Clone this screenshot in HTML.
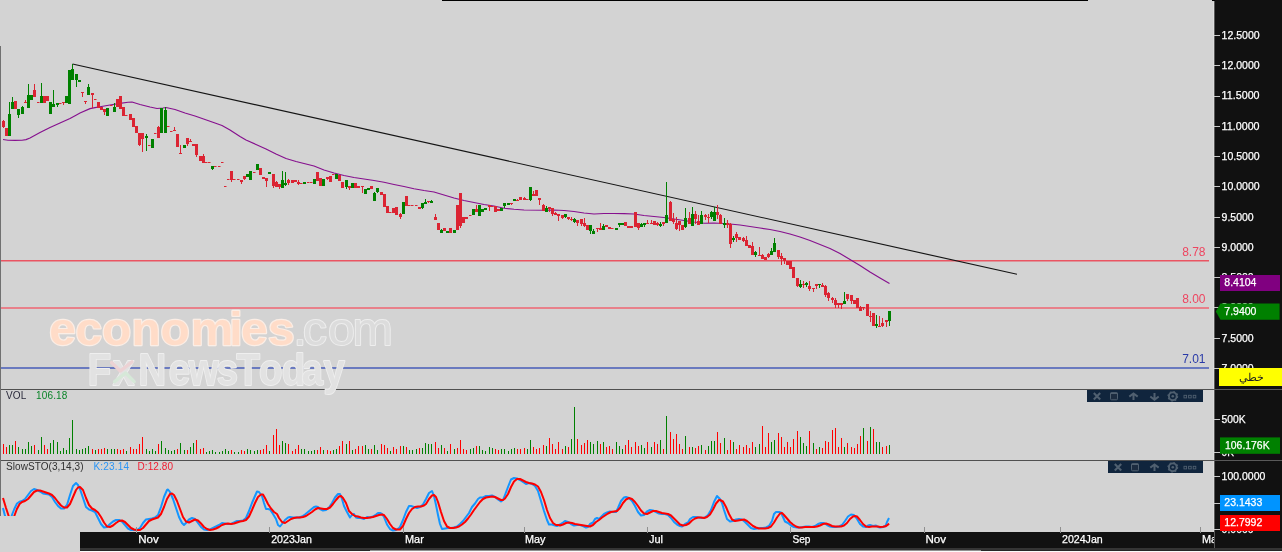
<!DOCTYPE html>
<html lang="en"><head><meta charset="utf-8"><title>Chart</title>
<style>
html,body{margin:0;padding:0;background:#d3d3d3;}
body{width:1282px;height:552px;overflow:hidden;position:relative;font-family:"Liberation Sans","Noto Sans CJK SC",sans-serif;}
svg{position:absolute;left:0;top:0;display:block}
.ax{font-size:11px;fill:#fff;stroke:#fff;stroke-width:0.25px;}
.c rect{shape-rendering:crispEdges}
text{font-family:"Liberation Sans","Noto Sans CJK SC",sans-serif;}
</style></head><body>
<svg width="1282" height="552" viewBox="0 0 1282 552">
<rect x="0" y="0" width="1282" height="552" fill="#d3d3d3"/>
<g class="c">
<rect x="0" y="260" width="1209" height="1.5" fill="#ea5562" style="shape-rendering:auto"/>
<rect x="0" y="307" width="1209" height="2" fill="#e8808a"/>
<rect x="0" y="367" width="1209" height="2" fill="#6a7abf"/>
</g>
<text x="1205.5" y="256" text-anchor="end" font-size="12" fill="#ee4560">8.78</text>
<text x="1205.5" y="303" text-anchor="end" font-size="12" fill="#ee4560">8.00</text>
<text x="1205.5" y="363" text-anchor="end" font-size="12" fill="#2a3aa8">7.01</text>
<g id="wm" stroke-linejoin="round">
<text transform="translate(0,344.80) scale(1.039,1)" x="47.39 72.59 98.11 126.48 154.43 183.60 220.69 231.95 258.02" y="0" font-size="46" font-weight="bold" fill="#ffdcc8" stroke="#fbeee6" stroke-width="2.4" paint-order="stroke">economies</text>
<text transform="translate(0,344.80) scale(1.055,1)" x="277.90 286.90 310.97 334.24" y="0" font-size="46" fill="#dcdcdc" stroke="#eeeeee" stroke-width="1.8" paint-order="stroke">.com</text>
</g>
<polyline points="3.0,139.5 8.0,140.2 15.0,140.4 22.0,140.3 26.0,139.6 30.0,138.0 40.0,132.6 50.0,127.6 60.0,123.0 70.0,118.5 76.0,115.2 80.0,113.0 90.0,108.6 95.0,107.6 100.0,106.7 110.0,105.0 120.0,103.4 128.0,102.3 132.0,102.0 140.0,104.5 150.0,107.0 157.0,108.5 163.0,108.0 166.0,107.5 175.0,109.5 185.0,113.0 195.0,116.0 205.0,119.5 215.0,123.0 222.0,125.5 230.0,130.0 240.0,136.5 246.0,140.0 256.0,144.5 266.0,149.0 276.0,154.0 286.0,158.5 296.0,161.5 306.0,164.0 314.0,166.0 324.0,170.0 334.0,173.0 344.0,175.5 354.0,177.5 364.0,179.0 374.0,180.5 384.0,182.3 394.0,184.5 404.0,186.5 414.0,188.7 424.0,190.5 434.0,192.0 444.0,195.0 454.0,198.0 464.0,200.5 474.0,202.5 484.0,204.5 494.0,206.0 504.0,208.2 514.0,209.3 524.0,210.0 544.0,210.3 554.0,210.0 564.0,210.5 574.0,211.5 584.0,213.0 594.0,214.0 604.0,213.5 614.0,213.5 624.0,213.6 634.0,214.0 644.0,215.5 654.0,216.5 664.0,217.5 674.0,219.0 684.0,220.5 694.0,222.0 704.0,223.2 714.0,223.0 724.0,223.5 730.0,224.0 740.0,225.0 750.0,226.5 760.0,228.0 770.0,229.5 780.0,231.5 790.0,234.0 800.0,237.0 810.0,240.5 820.0,244.5 830.0,248.5 840.0,253.5 850.0,259.5 860.0,265.5 870.0,272.0 880.0,278.0 889.5,283.5" fill="none" stroke="#86108e" stroke-width="1.15" stroke-linejoin="round"/>
<line x1="72.5" y1="64" x2="1017" y2="274.3" stroke="#141414" stroke-width="1.15"/>
<g class="c">
<rect x="3" y="120" width="1" height="8" fill="#db2433"/>
<rect x="2" y="121" width="3" height="6" fill="#db2433"/>
<rect x="5" y="128" width="3" height="8" fill="#db2433"/>
<rect x="9" y="102" width="1" height="34" fill="#008000"/>
<rect x="8" y="114" width="3" height="22" fill="#008000"/>
<rect x="12" y="97" width="1" height="12" fill="#008000"/>
<rect x="11" y="102" width="3" height="7" fill="#008000"/>
<rect x="14" y="101" width="3" height="8" fill="#db2433"/>
<rect x="18" y="109" width="1" height="9" fill="#008000"/>
<rect x="17" y="109" width="3" height="6" fill="#008000"/>
<rect x="22" y="106" width="1" height="8" fill="#008000"/>
<rect x="21" y="107" width="3" height="7" fill="#008000"/>
<rect x="25" y="100" width="1" height="3" fill="#db2433"/>
<rect x="24" y="102" width="3" height="1" fill="#db2433"/>
<rect x="28" y="84" width="1" height="24" fill="#008000"/>
<rect x="27" y="95" width="3" height="13" fill="#008000"/>
<rect x="30" y="95" width="3" height="5" fill="#008000"/>
<rect x="34" y="84" width="1" height="13" fill="#db2433"/>
<rect x="33" y="90" width="3" height="7" fill="#db2433"/>
<rect x="37" y="102" width="2.5" height="1" fill="#db2433" style="shape-rendering:auto"/>
<rect x="41" y="83" width="1" height="20" fill="#008000"/>
<rect x="40" y="96" width="3" height="7" fill="#008000"/>
<rect x="43" y="96" width="3" height="7" fill="#db2433"/>
<rect x="46" y="96" width="3" height="5" fill="#db2433"/>
<rect x="49" y="102" width="3" height="12" fill="#008000"/>
<rect x="53" y="90" width="1" height="17" fill="#008000"/>
<rect x="52" y="104" width="3" height="3" fill="#008000"/>
<rect x="57" y="103" width="1" height="4" fill="#008000"/>
<rect x="56" y="103" width="3" height="2" fill="#008000"/>
<rect x="59" y="103" width="2.5" height="1" fill="#db2433" style="shape-rendering:auto"/>
<rect x="63" y="102" width="1" height="3" fill="#db2433"/>
<rect x="62" y="102" width="3" height="1" fill="#db2433"/>
<rect x="65" y="96" width="3" height="7" fill="#008000"/>
<rect x="68" y="70" width="3" height="34" fill="#008000"/>
<rect x="72" y="64" width="1" height="16" fill="#008000"/>
<rect x="71" y="69" width="3" height="11" fill="#008000"/>
<rect x="76" y="74" width="1" height="13" fill="#008000"/>
<rect x="75" y="74" width="3" height="6" fill="#008000"/>
<rect x="78" y="80" width="3" height="2" fill="#008000"/>
<rect x="82" y="92" width="1" height="5" fill="#db2433"/>
<rect x="81" y="92" width="3" height="1" fill="#db2433"/>
<rect x="85" y="101" width="1" height="3" fill="#db2433"/>
<rect x="84" y="101" width="3" height="1" fill="#db2433"/>
<rect x="88" y="84" width="1" height="11" fill="#008000"/>
<rect x="87" y="87" width="3" height="8" fill="#008000"/>
<rect x="92" y="93" width="1" height="15" fill="#db2433"/>
<rect x="91" y="93" width="3" height="2" fill="#db2433"/>
<rect x="94" y="99" width="2.5" height="1" fill="#db2433" style="shape-rendering:auto"/>
<rect x="97" y="102" width="3" height="6" fill="#db2433"/>
<rect x="100" y="107" width="3" height="3" fill="#db2433"/>
<rect x="104" y="109" width="1" height="6" fill="#db2433"/>
<rect x="103" y="109" width="3" height="3" fill="#db2433"/>
<rect x="106" y="108" width="3" height="8" fill="#008000"/>
<rect x="110" y="105" width="2.5" height="1" fill="#db2433" style="shape-rendering:auto"/>
<rect x="114" y="103" width="1" height="9" fill="#008000"/>
<rect x="113" y="107" width="3" height="5" fill="#008000"/>
<rect x="116" y="99" width="3" height="8" fill="#db2433"/>
<rect x="119" y="96" width="3" height="13" fill="#db2433"/>
<rect x="122" y="107" width="3" height="9" fill="#db2433"/>
<rect x="125" y="115" width="2.5" height="1" fill="#db2433" style="shape-rendering:auto"/>
<rect x="129" y="114" width="3" height="6" fill="#db2433"/>
<rect x="132" y="118" width="3" height="9" fill="#db2433"/>
<rect x="135" y="126" width="3" height="7" fill="#db2433"/>
<rect x="139" y="133" width="1" height="13" fill="#db2433"/>
<rect x="138" y="133" width="3" height="12" fill="#db2433"/>
<rect x="142" y="133" width="1" height="19" fill="#db2433"/>
<rect x="141" y="133" width="3" height="6" fill="#db2433"/>
<rect x="146" y="134" width="1" height="17" fill="#008000"/>
<rect x="145" y="136" width="3" height="2" fill="#008000"/>
<rect x="148" y="145" width="2.5" height="1" fill="#db2433" style="shape-rendering:auto"/>
<rect x="151" y="139" width="3" height="9" fill="#008000"/>
<rect x="154" y="133" width="2.5" height="1" fill="#db2433" style="shape-rendering:auto"/>
<rect x="158" y="126" width="1" height="12" fill="#db2433"/>
<rect x="157" y="127" width="3" height="11" fill="#db2433"/>
<rect x="160" y="108" width="3" height="25" fill="#008000"/>
<rect x="165" y="107" width="1" height="26" fill="#008000"/>
<rect x="164" y="110" width="3" height="23" fill="#008000"/>
<rect x="167" y="126" width="2.5" height="1" fill="#db2433" style="shape-rendering:auto"/>
<rect x="170" y="131" width="2.5" height="1" fill="#db2433" style="shape-rendering:auto"/>
<rect x="174" y="127" width="1" height="4" fill="#db2433"/>
<rect x="173" y="130" width="3" height="1" fill="#db2433"/>
<rect x="176" y="134" width="3" height="13" fill="#db2433"/>
<rect x="180" y="145" width="1" height="9" fill="#db2433"/>
<rect x="179" y="153" width="3" height="1" fill="#db2433"/>
<rect x="183" y="145" width="3" height="3" fill="#008000"/>
<rect x="187" y="138" width="1" height="8" fill="#db2433"/>
<rect x="186" y="138" width="3" height="6" fill="#db2433"/>
<rect x="190" y="139" width="1" height="3" fill="#db2433"/>
<rect x="189" y="141" width="3" height="1" fill="#db2433"/>
<rect x="192" y="144" width="3" height="2" fill="#db2433"/>
<rect x="196" y="144" width="1" height="13" fill="#db2433"/>
<rect x="195" y="144" width="3" height="11" fill="#db2433"/>
<rect x="199" y="156" width="3" height="5" fill="#db2433"/>
<rect x="203" y="154" width="1" height="9" fill="#db2433"/>
<rect x="202" y="156" width="3" height="7" fill="#db2433"/>
<rect x="205" y="162" width="2.5" height="1" fill="#db2433" style="shape-rendering:auto"/>
<rect x="208" y="162" width="2.5" height="1" fill="#db2433" style="shape-rendering:auto"/>
<rect x="212" y="166" width="1" height="4" fill="#008000"/>
<rect x="211" y="166" width="3" height="3" fill="#008000"/>
<rect x="214" y="166" width="2.5" height="1" fill="#db2433" style="shape-rendering:auto"/>
<rect x="218" y="166" width="2.5" height="1" fill="#db2433" style="shape-rendering:auto"/>
<rect x="221" y="162" width="2.5" height="1" fill="#db2433" style="shape-rendering:auto"/>
<rect x="224" y="186" width="2.5" height="1" fill="#db2433" style="shape-rendering:auto"/>
<rect x="227" y="179" width="2.5" height="1" fill="#db2433" style="shape-rendering:auto"/>
<rect x="231" y="171" width="1" height="11" fill="#db2433"/>
<rect x="230" y="171" width="3" height="9" fill="#db2433"/>
<rect x="233" y="179" width="2.5" height="1" fill="#db2433" style="shape-rendering:auto"/>
<rect x="237" y="179" width="2.5" height="1" fill="#db2433" style="shape-rendering:auto"/>
<rect x="241" y="180" width="1" height="4" fill="#db2433"/>
<rect x="240" y="180" width="3" height="2" fill="#db2433"/>
<rect x="244" y="176" width="1" height="4" fill="#db2433"/>
<rect x="243" y="176" width="3" height="3" fill="#db2433"/>
<rect x="246" y="174" width="3" height="3" fill="#008000"/>
<rect x="249" y="171" width="3" height="9" fill="#008000"/>
<rect x="253" y="172" width="2.5" height="1" fill="#db2433" style="shape-rendering:auto"/>
<rect x="256" y="164" width="3" height="6" fill="#008000"/>
<rect x="259" y="168" width="3" height="7" fill="#db2433"/>
<rect x="262" y="177" width="3" height="2" fill="#db2433"/>
<rect x="266" y="178" width="1" height="9" fill="#db2433"/>
<rect x="265" y="178" width="3" height="3" fill="#db2433"/>
<rect x="268" y="172" width="3" height="2" fill="#008000"/>
<rect x="273" y="174" width="1" height="14" fill="#db2433"/>
<rect x="272" y="174" width="3" height="12" fill="#db2433"/>
<rect x="276" y="181" width="1" height="6" fill="#db2433"/>
<rect x="275" y="182" width="3" height="5" fill="#db2433"/>
<rect x="279" y="184" width="1" height="5" fill="#db2433"/>
<rect x="278" y="184" width="3" height="3" fill="#db2433"/>
<rect x="282" y="171" width="1" height="17" fill="#008000"/>
<rect x="281" y="180" width="3" height="8" fill="#008000"/>
<rect x="285" y="172" width="1" height="14" fill="#008000"/>
<rect x="284" y="183" width="3" height="2" fill="#008000"/>
<rect x="288" y="179" width="1" height="6" fill="#db2433"/>
<rect x="287" y="180" width="3" height="3" fill="#db2433"/>
<rect x="291" y="180" width="3" height="3" fill="#db2433"/>
<rect x="294" y="180" width="3" height="2" fill="#db2433"/>
<rect x="298" y="180" width="1" height="5" fill="#db2433"/>
<rect x="297" y="182" width="3" height="2" fill="#db2433"/>
<rect x="300" y="183" width="2.5" height="1" fill="#db2433" style="shape-rendering:auto"/>
<rect x="303" y="182" width="3" height="2" fill="#008000"/>
<rect x="307" y="182" width="2.5" height="1" fill="#db2433" style="shape-rendering:auto"/>
<rect x="310" y="182" width="2.5" height="1" fill="#db2433" style="shape-rendering:auto"/>
<rect x="313" y="179" width="3" height="5" fill="#008000"/>
<rect x="316" y="172" width="3" height="9" fill="#db2433"/>
<rect x="319" y="178" width="3" height="8" fill="#db2433"/>
<rect x="322" y="179" width="3" height="7" fill="#008000"/>
<rect x="327" y="177" width="1" height="3" fill="#db2433"/>
<rect x="326" y="177" width="3" height="2" fill="#db2433"/>
<rect x="329" y="176" width="3" height="6" fill="#db2433"/>
<rect x="332" y="174" width="2.5" height="1" fill="#db2433" style="shape-rendering:auto"/>
<rect x="335" y="174" width="3" height="5" fill="#008000"/>
<rect x="338" y="175" width="3" height="6" fill="#db2433"/>
<rect x="341" y="182" width="3" height="6" fill="#db2433"/>
<rect x="346" y="180" width="1" height="9" fill="#008000"/>
<rect x="345" y="180" width="3" height="7" fill="#008000"/>
<rect x="349" y="186" width="1" height="4" fill="#db2433"/>
<rect x="348" y="186" width="3" height="2" fill="#db2433"/>
<rect x="351" y="183" width="3" height="5" fill="#008000"/>
<rect x="354" y="183" width="3" height="5" fill="#db2433"/>
<rect x="357" y="186" width="3" height="2" fill="#db2433"/>
<rect x="362" y="186" width="1" height="7" fill="#db2433"/>
<rect x="361" y="186" width="3" height="1" fill="#db2433"/>
<rect x="364" y="189" width="3" height="5" fill="#008000"/>
<rect x="367" y="188" width="3" height="2" fill="#008000"/>
<rect x="370" y="186" width="3" height="3" fill="#db2433"/>
<rect x="374" y="192" width="1" height="9" fill="#008000"/>
<rect x="373" y="193" width="3" height="8" fill="#008000"/>
<rect x="377" y="188" width="1" height="5" fill="#008000"/>
<rect x="376" y="188" width="3" height="4" fill="#008000"/>
<rect x="380" y="192" width="3" height="3" fill="#db2433"/>
<rect x="383" y="194" width="3" height="13" fill="#db2433"/>
<rect x="386" y="206" width="3" height="7" fill="#db2433"/>
<rect x="389" y="212" width="2.5" height="1" fill="#db2433" style="shape-rendering:auto"/>
<rect x="392" y="208" width="3" height="5" fill="#db2433"/>
<rect x="395" y="207" width="3" height="8" fill="#db2433"/>
<rect x="400" y="213" width="1" height="6" fill="#db2433"/>
<rect x="399" y="214" width="3" height="3" fill="#db2433"/>
<rect x="402" y="202" width="3" height="12" fill="#008000"/>
<rect x="405" y="196" width="3" height="10" fill="#db2433"/>
<rect x="408" y="205" width="2.5" height="1" fill="#db2433" style="shape-rendering:auto"/>
<rect x="411" y="205" width="2.5" height="1" fill="#db2433" style="shape-rendering:auto"/>
<rect x="415" y="205" width="2.5" height="1" fill="#db2433" style="shape-rendering:auto"/>
<rect x="418" y="207" width="3" height="2" fill="#db2433"/>
<rect x="422" y="203" width="1" height="6" fill="#008000"/>
<rect x="421" y="203" width="3" height="5" fill="#008000"/>
<rect x="425" y="199" width="1" height="5" fill="#008000"/>
<rect x="424" y="202" width="3" height="2" fill="#008000"/>
<rect x="428" y="201" width="1" height="2" fill="#db2433"/>
<rect x="427" y="201" width="3" height="1" fill="#db2433"/>
<rect x="431" y="200" width="1" height="3" fill="#008000"/>
<rect x="430" y="201" width="3" height="2" fill="#008000"/>
<rect x="435" y="214" width="1" height="6" fill="#db2433"/>
<rect x="434" y="217" width="3" height="3" fill="#db2433"/>
<rect x="437" y="223" width="3" height="7" fill="#db2433"/>
<rect x="441" y="229" width="1" height="4" fill="#008000"/>
<rect x="440" y="230" width="3" height="3" fill="#008000"/>
<rect x="443" y="228" width="3" height="3" fill="#db2433"/>
<rect x="446" y="231" width="3" height="2" fill="#008000"/>
<rect x="449" y="228" width="3" height="5" fill="#db2433"/>
<rect x="453" y="230" width="3" height="3" fill="#008000"/>
<rect x="456" y="205" width="3" height="25" fill="#db2433"/>
<rect x="460" y="193" width="1" height="35" fill="#db2433"/>
<rect x="459" y="193" width="3" height="33" fill="#db2433"/>
<rect x="462" y="217" width="3" height="6" fill="#db2433"/>
<rect x="465" y="217" width="3" height="2" fill="#db2433"/>
<rect x="469" y="215" width="2.5" height="1" fill="#db2433" style="shape-rendering:auto"/>
<rect x="472" y="209" width="3" height="6" fill="#008000"/>
<rect x="476" y="205" width="1" height="7" fill="#db2433"/>
<rect x="475" y="209" width="3" height="3" fill="#db2433"/>
<rect x="478" y="205" width="3" height="11" fill="#008000"/>
<rect x="481" y="209" width="3" height="3" fill="#008000"/>
<rect x="484" y="208" width="3" height="2" fill="#008000"/>
<rect x="489" y="205" width="1" height="6" fill="#db2433"/>
<rect x="488" y="205" width="3" height="2" fill="#db2433"/>
<rect x="491" y="206" width="2.5" height="1" fill="#db2433" style="shape-rendering:auto"/>
<rect x="494" y="206" width="3" height="6" fill="#db2433"/>
<rect x="497" y="209" width="3" height="2" fill="#db2433"/>
<rect x="500" y="208" width="3" height="3" fill="#008000"/>
<rect x="504" y="203" width="1" height="5" fill="#008000"/>
<rect x="503" y="203" width="3" height="3" fill="#008000"/>
<rect x="507" y="203" width="3" height="2" fill="#008000"/>
<rect x="511" y="203" width="1" height="2" fill="#db2433"/>
<rect x="510" y="203" width="3" height="1" fill="#db2433"/>
<rect x="513" y="199" width="3" height="2" fill="#008000"/>
<rect x="517" y="199" width="1" height="2" fill="#db2433"/>
<rect x="516" y="200" width="3" height="1" fill="#db2433"/>
<rect x="519" y="197" width="3" height="3" fill="#db2433"/>
<rect x="524" y="197" width="1" height="3" fill="#db2433"/>
<rect x="523" y="198" width="3" height="2" fill="#db2433"/>
<rect x="526" y="199" width="2.5" height="1" fill="#db2433" style="shape-rendering:auto"/>
<rect x="530" y="187" width="1" height="14" fill="#008000"/>
<rect x="529" y="187" width="3" height="13" fill="#008000"/>
<rect x="533" y="191" width="1" height="5" fill="#db2433"/>
<rect x="532" y="194" width="3" height="2" fill="#db2433"/>
<rect x="535" y="190" width="3" height="6" fill="#db2433"/>
<rect x="539" y="198" width="1" height="7" fill="#db2433"/>
<rect x="538" y="198" width="3" height="2" fill="#db2433"/>
<rect x="543" y="204" width="1" height="7" fill="#db2433"/>
<rect x="542" y="205" width="3" height="6" fill="#db2433"/>
<rect x="546" y="206" width="1" height="6" fill="#008000"/>
<rect x="545" y="208" width="3" height="4" fill="#008000"/>
<rect x="549" y="207" width="1" height="5" fill="#db2433"/>
<rect x="548" y="207" width="3" height="2" fill="#db2433"/>
<rect x="552" y="208" width="1" height="8" fill="#db2433"/>
<rect x="551" y="208" width="3" height="6" fill="#db2433"/>
<rect x="555" y="212" width="1" height="3" fill="#db2433"/>
<rect x="554" y="213" width="3" height="2" fill="#db2433"/>
<rect x="558" y="214" width="1" height="7" fill="#db2433"/>
<rect x="557" y="214" width="3" height="2" fill="#db2433"/>
<rect x="562" y="215" width="1" height="4" fill="#db2433"/>
<rect x="561" y="215" width="3" height="3" fill="#db2433"/>
<rect x="565" y="214" width="1" height="4" fill="#008000"/>
<rect x="564" y="214" width="3" height="3" fill="#008000"/>
<rect x="568" y="217" width="1" height="3" fill="#db2433"/>
<rect x="567" y="217" width="3" height="2" fill="#db2433"/>
<rect x="571" y="217" width="1" height="4" fill="#db2433"/>
<rect x="570" y="219" width="3" height="1" fill="#db2433"/>
<rect x="574" y="218" width="1" height="5" fill="#008000"/>
<rect x="573" y="219" width="3" height="3" fill="#008000"/>
<rect x="577" y="220" width="1" height="6" fill="#db2433"/>
<rect x="576" y="220" width="3" height="3" fill="#db2433"/>
<rect x="581" y="219" width="1" height="7" fill="#db2433"/>
<rect x="580" y="219" width="3" height="5" fill="#db2433"/>
<rect x="584" y="218" width="1" height="9" fill="#db2433"/>
<rect x="583" y="223" width="3" height="3" fill="#db2433"/>
<rect x="586" y="225" width="3" height="5" fill="#db2433"/>
<rect x="590" y="225" width="1" height="9" fill="#008000"/>
<rect x="589" y="225" width="3" height="6" fill="#008000"/>
<rect x="593" y="229" width="1" height="5" fill="#008000"/>
<rect x="592" y="231" width="3" height="3" fill="#008000"/>
<rect x="597" y="228" width="1" height="4" fill="#db2433"/>
<rect x="596" y="228" width="3" height="1" fill="#db2433"/>
<rect x="600" y="223" width="1" height="7" fill="#db2433"/>
<rect x="599" y="228" width="3" height="2" fill="#db2433"/>
<rect x="603" y="224" width="1" height="6" fill="#008000"/>
<rect x="602" y="226" width="3" height="4" fill="#008000"/>
<rect x="605" y="225" width="3" height="2" fill="#db2433"/>
<rect x="608" y="227" width="3" height="2" fill="#db2433"/>
<rect x="611" y="228" width="2.5" height="1" fill="#db2433" style="shape-rendering:auto"/>
<rect x="615" y="228" width="3" height="2" fill="#008000"/>
<rect x="619" y="223" width="1" height="4" fill="#008000"/>
<rect x="618" y="223" width="3" height="2" fill="#008000"/>
<rect x="621" y="223" width="3" height="2" fill="#008000"/>
<rect x="624" y="222" width="3" height="4" fill="#db2433"/>
<rect x="627" y="226" width="3" height="2" fill="#db2433"/>
<rect x="630" y="226" width="3" height="2" fill="#db2433"/>
<rect x="634" y="212" width="3" height="15" fill="#db2433"/>
<rect x="638" y="223" width="1" height="7" fill="#db2433"/>
<rect x="637" y="223" width="3" height="5" fill="#db2433"/>
<rect x="641" y="223" width="1" height="4" fill="#008000"/>
<rect x="640" y="224" width="3" height="3" fill="#008000"/>
<rect x="644" y="223" width="1" height="4" fill="#008000"/>
<rect x="643" y="223" width="3" height="2" fill="#008000"/>
<rect x="647" y="220" width="1" height="4" fill="#db2433"/>
<rect x="646" y="223" width="3" height="1" fill="#db2433"/>
<rect x="651" y="220" width="1" height="4" fill="#db2433"/>
<rect x="650" y="223" width="3" height="1" fill="#db2433"/>
<rect x="653" y="221" width="3" height="4" fill="#db2433"/>
<rect x="657" y="222" width="1" height="4" fill="#db2433"/>
<rect x="656" y="223" width="3" height="2" fill="#db2433"/>
<rect x="660" y="222" width="1" height="5" fill="#008000"/>
<rect x="659" y="224" width="3" height="2" fill="#008000"/>
<rect x="663" y="222" width="1" height="4" fill="#db2433"/>
<rect x="662" y="222" width="3" height="2" fill="#db2433"/>
<rect x="666" y="182" width="1" height="41" fill="#008000"/>
<rect x="665" y="215" width="3" height="8" fill="#008000"/>
<rect x="670" y="201" width="1" height="20" fill="#db2433"/>
<rect x="669" y="202" width="3" height="19" fill="#db2433"/>
<rect x="673" y="213" width="1" height="11" fill="#db2433"/>
<rect x="672" y="219" width="3" height="3" fill="#db2433"/>
<rect x="676" y="217" width="1" height="13" fill="#db2433"/>
<rect x="675" y="223" width="3" height="6" fill="#db2433"/>
<rect x="679" y="221" width="1" height="10" fill="#db2433"/>
<rect x="678" y="221" width="3" height="4" fill="#db2433"/>
<rect x="681" y="225" width="3" height="5" fill="#db2433"/>
<rect x="685" y="208" width="1" height="20" fill="#008000"/>
<rect x="684" y="218" width="3" height="9" fill="#008000"/>
<rect x="689" y="212" width="1" height="12" fill="#db2433"/>
<rect x="688" y="218" width="3" height="6" fill="#db2433"/>
<rect x="692" y="207" width="1" height="19" fill="#008000"/>
<rect x="691" y="214" width="3" height="12" fill="#008000"/>
<rect x="695" y="211" width="1" height="13" fill="#db2433"/>
<rect x="694" y="214" width="3" height="5" fill="#db2433"/>
<rect x="698" y="215" width="1" height="10" fill="#db2433"/>
<rect x="697" y="221" width="3" height="4" fill="#db2433"/>
<rect x="701" y="211" width="1" height="13" fill="#008000"/>
<rect x="700" y="215" width="3" height="9" fill="#008000"/>
<rect x="705" y="214" width="1" height="6" fill="#db2433"/>
<rect x="704" y="215" width="3" height="2" fill="#db2433"/>
<rect x="708" y="214" width="1" height="9" fill="#db2433"/>
<rect x="707" y="217" width="3" height="1" fill="#db2433"/>
<rect x="711" y="211" width="1" height="8" fill="#008000"/>
<rect x="710" y="212" width="3" height="5" fill="#008000"/>
<rect x="714" y="207" width="1" height="14" fill="#008000"/>
<rect x="713" y="212" width="3" height="9" fill="#008000"/>
<rect x="717" y="205" width="1" height="14" fill="#db2433"/>
<rect x="716" y="212" width="3" height="3" fill="#db2433"/>
<rect x="720" y="214" width="1" height="10" fill="#db2433"/>
<rect x="719" y="215" width="3" height="9" fill="#db2433"/>
<rect x="724" y="218" width="1" height="10" fill="#008000"/>
<rect x="723" y="223" width="3" height="2" fill="#008000"/>
<rect x="727" y="220" width="1" height="8" fill="#db2433"/>
<rect x="726" y="223" width="3" height="2" fill="#db2433"/>
<rect x="730" y="223" width="1" height="25" fill="#db2433"/>
<rect x="729" y="224" width="3" height="20" fill="#db2433"/>
<rect x="733" y="236" width="1" height="6" fill="#008000"/>
<rect x="732" y="238" width="3" height="2" fill="#008000"/>
<rect x="736" y="232" width="1" height="10" fill="#db2433"/>
<rect x="735" y="234" width="3" height="4" fill="#db2433"/>
<rect x="738" y="237" width="3" height="3" fill="#db2433"/>
<rect x="743" y="237" width="1" height="5" fill="#db2433"/>
<rect x="742" y="238" width="3" height="3" fill="#db2433"/>
<rect x="746" y="236" width="1" height="10" fill="#db2433"/>
<rect x="745" y="240" width="3" height="6" fill="#db2433"/>
<rect x="748" y="245" width="3" height="3" fill="#db2433"/>
<rect x="752" y="242" width="1" height="13" fill="#db2433"/>
<rect x="751" y="246" width="3" height="9" fill="#db2433"/>
<rect x="755" y="251" width="1" height="6" fill="#008000"/>
<rect x="754" y="252" width="3" height="3" fill="#008000"/>
<rect x="759" y="247" width="1" height="9" fill="#db2433"/>
<rect x="758" y="255" width="3" height="1" fill="#db2433"/>
<rect x="762" y="254" width="1" height="5" fill="#db2433"/>
<rect x="761" y="255" width="3" height="4" fill="#db2433"/>
<rect x="764" y="257" width="3" height="3" fill="#db2433"/>
<rect x="768" y="253" width="1" height="5" fill="#db2433"/>
<rect x="767" y="254" width="3" height="3" fill="#db2433"/>
<rect x="771" y="248" width="1" height="7" fill="#008000"/>
<rect x="770" y="251" width="3" height="4" fill="#008000"/>
<rect x="774" y="238" width="1" height="14" fill="#008000"/>
<rect x="773" y="243" width="3" height="9" fill="#008000"/>
<rect x="778" y="250" width="1" height="9" fill="#db2433"/>
<rect x="777" y="250" width="3" height="7" fill="#db2433"/>
<rect x="781" y="253" width="1" height="12" fill="#db2433"/>
<rect x="780" y="256" width="3" height="3" fill="#db2433"/>
<rect x="784" y="258" width="1" height="6" fill="#db2433"/>
<rect x="783" y="258" width="3" height="3" fill="#db2433"/>
<rect x="786" y="261" width="3" height="4" fill="#db2433"/>
<rect x="789" y="261" width="3" height="8" fill="#db2433"/>
<rect x="792" y="267" width="3" height="11" fill="#db2433"/>
<rect x="797" y="278" width="1" height="9" fill="#db2433"/>
<rect x="796" y="278" width="3" height="8" fill="#db2433"/>
<rect x="800" y="280" width="1" height="8" fill="#008000"/>
<rect x="799" y="284" width="3" height="3" fill="#008000"/>
<rect x="803" y="281" width="1" height="7" fill="#db2433"/>
<rect x="802" y="284" width="3" height="1" fill="#db2433"/>
<rect x="806" y="282" width="1" height="5" fill="#008000"/>
<rect x="805" y="283" width="3" height="2" fill="#008000"/>
<rect x="809" y="281" width="1" height="10" fill="#db2433"/>
<rect x="808" y="286" width="3" height="3" fill="#db2433"/>
<rect x="813" y="288" width="1" height="4" fill="#db2433"/>
<rect x="812" y="288" width="3" height="1" fill="#db2433"/>
<rect x="816" y="284" width="1" height="5" fill="#db2433"/>
<rect x="815" y="284" width="3" height="2" fill="#db2433"/>
<rect x="819" y="284" width="1" height="4" fill="#008000"/>
<rect x="818" y="284" width="3" height="1" fill="#008000"/>
<rect x="822" y="283" width="1" height="4" fill="#db2433"/>
<rect x="821" y="285" width="3" height="2" fill="#db2433"/>
<rect x="825" y="285" width="1" height="12" fill="#db2433"/>
<rect x="824" y="286" width="3" height="9" fill="#db2433"/>
<rect x="828" y="292" width="1" height="9" fill="#db2433"/>
<rect x="827" y="293" width="3" height="5" fill="#db2433"/>
<rect x="832" y="297" width="1" height="6" fill="#db2433"/>
<rect x="831" y="298" width="3" height="2" fill="#db2433"/>
<rect x="835" y="298" width="1" height="10" fill="#db2433"/>
<rect x="834" y="300" width="3" height="5" fill="#db2433"/>
<rect x="838" y="303" width="1" height="5" fill="#db2433"/>
<rect x="837" y="303" width="3" height="2" fill="#db2433"/>
<rect x="841" y="303" width="1" height="6" fill="#db2433"/>
<rect x="840" y="303" width="3" height="2" fill="#db2433"/>
<rect x="844" y="292" width="1" height="12" fill="#008000"/>
<rect x="843" y="301" width="3" height="3" fill="#008000"/>
<rect x="847" y="294" width="1" height="7" fill="#db2433"/>
<rect x="846" y="294" width="3" height="5" fill="#db2433"/>
<rect x="851" y="295" width="1" height="9" fill="#db2433"/>
<rect x="850" y="295" width="3" height="6" fill="#db2433"/>
<rect x="853" y="300" width="3" height="4" fill="#db2433"/>
<rect x="856" y="298" width="3" height="10" fill="#db2433"/>
<rect x="860" y="306" width="1" height="5" fill="#db2433"/>
<rect x="859" y="307" width="3" height="4" fill="#db2433"/>
<rect x="863" y="307" width="1" height="3" fill="#db2433"/>
<rect x="862" y="307" width="3" height="1" fill="#db2433"/>
<rect x="866" y="304" width="3" height="12" fill="#db2433"/>
<rect x="870" y="311" width="1" height="11" fill="#db2433"/>
<rect x="869" y="316" width="3" height="1" fill="#db2433"/>
<rect x="872" y="313" width="3" height="13" fill="#db2433"/>
<rect x="876" y="315" width="1" height="13" fill="#008000"/>
<rect x="875" y="324" width="3" height="2" fill="#008000"/>
<rect x="879" y="316" width="1" height="11" fill="#db2433"/>
<rect x="878" y="326" width="3" height="1" fill="#db2433"/>
<rect x="882" y="318" width="1" height="9" fill="#db2433"/>
<rect x="881" y="323" width="3" height="3" fill="#db2433"/>
<rect x="886" y="320" width="1" height="7" fill="#db2433"/>
<rect x="885" y="320" width="3" height="2" fill="#db2433"/>
<rect x="889" y="311" width="1" height="15" fill="#008000"/>
<rect x="888" y="311" width="3" height="10" fill="#008000"/>
</g>
<g class="c">
<rect x="3" y="444" width="1" height="10" fill="#ff0000"/>
<rect x="6" y="447" width="1" height="7" fill="#ff0000"/>
<rect x="9" y="445" width="1" height="9" fill="#008000"/>
<rect x="12" y="445" width="1" height="9" fill="#008000"/>
<rect x="15" y="441" width="1" height="13" fill="#ff0000"/>
<rect x="18" y="447" width="1" height="7" fill="#008000"/>
<rect x="22" y="449" width="1" height="5" fill="#008000"/>
<rect x="25" y="449" width="1" height="5" fill="#008000"/>
<rect x="28" y="442" width="1" height="12" fill="#008000"/>
<rect x="31" y="446" width="1" height="8" fill="#008000"/>
<rect x="34" y="445" width="1" height="9" fill="#ff0000"/>
<rect x="38" y="450" width="1" height="4" fill="#008000"/>
<rect x="41" y="437" width="1" height="17" fill="#008000"/>
<rect x="44" y="445" width="1" height="9" fill="#ff0000"/>
<rect x="47" y="449" width="1" height="5" fill="#ff0000"/>
<rect x="50" y="443" width="1" height="11" fill="#008000"/>
<rect x="53" y="440" width="1" height="14" fill="#008000"/>
<rect x="57" y="442" width="1" height="12" fill="#008000"/>
<rect x="60" y="451" width="1" height="3" fill="#008000"/>
<rect x="63" y="448" width="1" height="6" fill="#008000"/>
<rect x="66" y="450" width="1" height="4" fill="#008000"/>
<rect x="69" y="438" width="1" height="16" fill="#008000"/>
<rect x="72" y="420" width="1" height="34" fill="#008000"/>
<rect x="76" y="449" width="1" height="5" fill="#008000"/>
<rect x="79" y="450" width="1" height="4" fill="#008000"/>
<rect x="82" y="449" width="1" height="5" fill="#008000"/>
<rect x="85" y="448" width="1" height="6" fill="#008000"/>
<rect x="88" y="446" width="1" height="8" fill="#008000"/>
<rect x="92" y="449" width="1" height="5" fill="#ff0000"/>
<rect x="95" y="450" width="1" height="4" fill="#008000"/>
<rect x="98" y="449" width="1" height="5" fill="#ff0000"/>
<rect x="101" y="449" width="1" height="5" fill="#ff0000"/>
<rect x="104" y="448" width="1" height="6" fill="#ff0000"/>
<rect x="107" y="449" width="1" height="5" fill="#008000"/>
<rect x="111" y="449" width="1" height="5" fill="#008000"/>
<rect x="114" y="449" width="1" height="5" fill="#008000"/>
<rect x="117" y="449" width="1" height="5" fill="#ff0000"/>
<rect x="120" y="450" width="1" height="4" fill="#ff0000"/>
<rect x="123" y="449" width="1" height="5" fill="#ff0000"/>
<rect x="126" y="451" width="1" height="3" fill="#008000"/>
<rect x="130" y="447" width="1" height="7" fill="#ff0000"/>
<rect x="133" y="449" width="1" height="5" fill="#ff0000"/>
<rect x="136" y="449" width="1" height="5" fill="#ff0000"/>
<rect x="139" y="444" width="1" height="10" fill="#ff0000"/>
<rect x="142" y="437" width="1" height="17" fill="#ff0000"/>
<rect x="146" y="449" width="1" height="5" fill="#008000"/>
<rect x="149" y="451" width="1" height="3" fill="#008000"/>
<rect x="152" y="449" width="1" height="5" fill="#008000"/>
<rect x="155" y="451" width="1" height="3" fill="#008000"/>
<rect x="158" y="444" width="1" height="10" fill="#ff0000"/>
<rect x="161" y="441" width="1" height="13" fill="#008000"/>
<rect x="165" y="448" width="1" height="6" fill="#008000"/>
<rect x="168" y="450" width="1" height="4" fill="#008000"/>
<rect x="171" y="451" width="1" height="3" fill="#008000"/>
<rect x="174" y="450" width="1" height="4" fill="#008000"/>
<rect x="177" y="449" width="1" height="5" fill="#ff0000"/>
<rect x="180" y="443" width="1" height="11" fill="#008000"/>
<rect x="184" y="450" width="1" height="4" fill="#008000"/>
<rect x="187" y="450" width="1" height="4" fill="#ff0000"/>
<rect x="190" y="447" width="1" height="7" fill="#008000"/>
<rect x="193" y="443" width="1" height="11" fill="#008000"/>
<rect x="196" y="440" width="1" height="14" fill="#ff0000"/>
<rect x="200" y="449" width="1" height="5" fill="#ff0000"/>
<rect x="203" y="448" width="1" height="6" fill="#ff0000"/>
<rect x="206" y="452" width="1" height="2" fill="#008000"/>
<rect x="209" y="451" width="1" height="3" fill="#008000"/>
<rect x="212" y="450" width="1" height="4" fill="#008000"/>
<rect x="215" y="452" width="1" height="2" fill="#008000"/>
<rect x="219" y="452" width="1" height="2" fill="#008000"/>
<rect x="222" y="451" width="1" height="3" fill="#008000"/>
<rect x="225" y="449" width="1" height="5" fill="#008000"/>
<rect x="228" y="451" width="1" height="3" fill="#008000"/>
<rect x="231" y="450" width="1" height="4" fill="#ff0000"/>
<rect x="234" y="452" width="1" height="2" fill="#008000"/>
<rect x="238" y="452" width="1" height="2" fill="#008000"/>
<rect x="241" y="450" width="1" height="4" fill="#ff0000"/>
<rect x="244" y="451" width="1" height="3" fill="#ff0000"/>
<rect x="247" y="449" width="1" height="5" fill="#008000"/>
<rect x="250" y="450" width="1" height="4" fill="#008000"/>
<rect x="254" y="451" width="1" height="3" fill="#008000"/>
<rect x="257" y="450" width="1" height="4" fill="#008000"/>
<rect x="260" y="450" width="1" height="4" fill="#ff0000"/>
<rect x="263" y="449" width="1" height="5" fill="#ff0000"/>
<rect x="266" y="445" width="1" height="9" fill="#ff0000"/>
<rect x="269" y="451" width="1" height="3" fill="#008000"/>
<rect x="273" y="435" width="1" height="19" fill="#ff0000"/>
<rect x="276" y="429" width="1" height="25" fill="#ff0000"/>
<rect x="279" y="445" width="1" height="9" fill="#ff0000"/>
<rect x="282" y="441" width="1" height="13" fill="#008000"/>
<rect x="285" y="443" width="1" height="11" fill="#008000"/>
<rect x="288" y="444" width="1" height="10" fill="#ff0000"/>
<rect x="292" y="451" width="1" height="3" fill="#ff0000"/>
<rect x="295" y="449" width="1" height="5" fill="#ff0000"/>
<rect x="298" y="445" width="1" height="9" fill="#ff0000"/>
<rect x="301" y="449" width="1" height="5" fill="#008000"/>
<rect x="304" y="449" width="1" height="5" fill="#008000"/>
<rect x="308" y="451" width="1" height="3" fill="#008000"/>
<rect x="311" y="451" width="1" height="3" fill="#008000"/>
<rect x="314" y="450" width="1" height="4" fill="#008000"/>
<rect x="317" y="450" width="1" height="4" fill="#ff0000"/>
<rect x="320" y="447" width="1" height="7" fill="#ff0000"/>
<rect x="323" y="450" width="1" height="4" fill="#008000"/>
<rect x="327" y="450" width="1" height="4" fill="#ff0000"/>
<rect x="330" y="451" width="1" height="3" fill="#ff0000"/>
<rect x="333" y="450" width="1" height="4" fill="#008000"/>
<rect x="336" y="449" width="1" height="5" fill="#008000"/>
<rect x="339" y="446" width="1" height="8" fill="#ff0000"/>
<rect x="342" y="441" width="1" height="13" fill="#ff0000"/>
<rect x="346" y="444" width="1" height="10" fill="#008000"/>
<rect x="349" y="441" width="1" height="13" fill="#ff0000"/>
<rect x="352" y="450" width="1" height="4" fill="#008000"/>
<rect x="355" y="449" width="1" height="5" fill="#ff0000"/>
<rect x="358" y="446" width="1" height="8" fill="#ff0000"/>
<rect x="362" y="446" width="1" height="8" fill="#ff0000"/>
<rect x="365" y="445" width="1" height="9" fill="#008000"/>
<rect x="368" y="449" width="1" height="5" fill="#008000"/>
<rect x="371" y="449" width="1" height="5" fill="#ff0000"/>
<rect x="374" y="445" width="1" height="9" fill="#008000"/>
<rect x="377" y="450" width="1" height="4" fill="#008000"/>
<rect x="381" y="444" width="1" height="10" fill="#ff0000"/>
<rect x="384" y="445" width="1" height="9" fill="#ff0000"/>
<rect x="387" y="448" width="1" height="6" fill="#ff0000"/>
<rect x="390" y="451" width="1" height="3" fill="#008000"/>
<rect x="393" y="447" width="1" height="7" fill="#ff0000"/>
<rect x="396" y="449" width="1" height="5" fill="#ff0000"/>
<rect x="400" y="446" width="1" height="8" fill="#ff0000"/>
<rect x="403" y="446" width="1" height="8" fill="#008000"/>
<rect x="406" y="447" width="1" height="7" fill="#ff0000"/>
<rect x="409" y="450" width="1" height="4" fill="#008000"/>
<rect x="412" y="450" width="1" height="4" fill="#008000"/>
<rect x="416" y="449" width="1" height="5" fill="#008000"/>
<rect x="419" y="448" width="1" height="6" fill="#ff0000"/>
<rect x="422" y="448" width="1" height="6" fill="#008000"/>
<rect x="425" y="443" width="1" height="11" fill="#008000"/>
<rect x="428" y="444" width="1" height="10" fill="#008000"/>
<rect x="431" y="444" width="1" height="10" fill="#008000"/>
<rect x="435" y="442" width="1" height="12" fill="#ff0000"/>
<rect x="438" y="448" width="1" height="6" fill="#ff0000"/>
<rect x="441" y="445" width="1" height="9" fill="#008000"/>
<rect x="444" y="448" width="1" height="6" fill="#ff0000"/>
<rect x="447" y="451" width="1" height="3" fill="#008000"/>
<rect x="450" y="444" width="1" height="10" fill="#ff0000"/>
<rect x="454" y="449" width="1" height="5" fill="#008000"/>
<rect x="457" y="448" width="1" height="6" fill="#ff0000"/>
<rect x="460" y="440" width="1" height="14" fill="#ff0000"/>
<rect x="463" y="449" width="1" height="5" fill="#ff0000"/>
<rect x="466" y="450" width="1" height="4" fill="#ff0000"/>
<rect x="470" y="449" width="1" height="5" fill="#008000"/>
<rect x="473" y="448" width="1" height="6" fill="#008000"/>
<rect x="476" y="446" width="1" height="8" fill="#ff0000"/>
<rect x="479" y="446" width="1" height="8" fill="#008000"/>
<rect x="482" y="450" width="1" height="4" fill="#008000"/>
<rect x="485" y="451" width="1" height="3" fill="#008000"/>
<rect x="489" y="447" width="1" height="7" fill="#008000"/>
<rect x="492" y="448" width="1" height="6" fill="#008000"/>
<rect x="495" y="449" width="1" height="5" fill="#ff0000"/>
<rect x="498" y="450" width="1" height="4" fill="#ff0000"/>
<rect x="501" y="449" width="1" height="5" fill="#008000"/>
<rect x="504" y="449" width="1" height="5" fill="#008000"/>
<rect x="508" y="451" width="1" height="3" fill="#008000"/>
<rect x="511" y="449" width="1" height="5" fill="#008000"/>
<rect x="514" y="448" width="1" height="6" fill="#008000"/>
<rect x="517" y="449" width="1" height="5" fill="#ff0000"/>
<rect x="520" y="449" width="1" height="5" fill="#ff0000"/>
<rect x="524" y="448" width="1" height="6" fill="#ff0000"/>
<rect x="527" y="449" width="1" height="5" fill="#008000"/>
<rect x="530" y="440" width="1" height="14" fill="#008000"/>
<rect x="533" y="447" width="1" height="7" fill="#ff0000"/>
<rect x="536" y="449" width="1" height="5" fill="#ff0000"/>
<rect x="539" y="448" width="1" height="6" fill="#ff0000"/>
<rect x="543" y="445" width="1" height="9" fill="#ff0000"/>
<rect x="546" y="446" width="1" height="8" fill="#008000"/>
<rect x="549" y="438" width="1" height="16" fill="#ff0000"/>
<rect x="552" y="444" width="1" height="10" fill="#ff0000"/>
<rect x="555" y="449" width="1" height="5" fill="#ff0000"/>
<rect x="558" y="442" width="1" height="12" fill="#ff0000"/>
<rect x="562" y="449" width="1" height="5" fill="#ff0000"/>
<rect x="565" y="446" width="1" height="8" fill="#008000"/>
<rect x="568" y="447" width="1" height="7" fill="#ff0000"/>
<rect x="571" y="439" width="1" height="15" fill="#008000"/>
<rect x="574" y="407" width="1" height="47" fill="#008000"/>
<rect x="577" y="439" width="1" height="15" fill="#ff0000"/>
<rect x="581" y="445" width="1" height="9" fill="#ff0000"/>
<rect x="584" y="443" width="1" height="11" fill="#ff0000"/>
<rect x="587" y="440" width="1" height="14" fill="#ff0000"/>
<rect x="590" y="442" width="1" height="12" fill="#008000"/>
<rect x="593" y="444" width="1" height="10" fill="#008000"/>
<rect x="597" y="441" width="1" height="13" fill="#008000"/>
<rect x="600" y="444" width="1" height="10" fill="#ff0000"/>
<rect x="603" y="442" width="1" height="12" fill="#008000"/>
<rect x="606" y="447" width="1" height="7" fill="#ff0000"/>
<rect x="609" y="446" width="1" height="8" fill="#ff0000"/>
<rect x="612" y="449" width="1" height="5" fill="#ff0000"/>
<rect x="616" y="442" width="1" height="12" fill="#008000"/>
<rect x="619" y="446" width="1" height="8" fill="#008000"/>
<rect x="622" y="449" width="1" height="5" fill="#008000"/>
<rect x="625" y="445" width="1" height="9" fill="#ff0000"/>
<rect x="628" y="440" width="1" height="14" fill="#ff0000"/>
<rect x="631" y="447" width="1" height="7" fill="#ff0000"/>
<rect x="635" y="442" width="1" height="12" fill="#ff0000"/>
<rect x="638" y="446" width="1" height="8" fill="#ff0000"/>
<rect x="641" y="445" width="1" height="9" fill="#008000"/>
<rect x="644" y="448" width="1" height="6" fill="#008000"/>
<rect x="647" y="442" width="1" height="12" fill="#ff0000"/>
<rect x="651" y="447" width="1" height="7" fill="#008000"/>
<rect x="654" y="442" width="1" height="12" fill="#ff0000"/>
<rect x="657" y="444" width="1" height="10" fill="#ff0000"/>
<rect x="660" y="440" width="1" height="14" fill="#008000"/>
<rect x="663" y="449" width="1" height="5" fill="#ff0000"/>
<rect x="666" y="416" width="1" height="38" fill="#008000"/>
<rect x="670" y="432" width="1" height="22" fill="#ff0000"/>
<rect x="673" y="439" width="1" height="15" fill="#ff0000"/>
<rect x="676" y="434" width="1" height="20" fill="#ff0000"/>
<rect x="679" y="444" width="1" height="10" fill="#ff0000"/>
<rect x="682" y="449" width="1" height="5" fill="#ff0000"/>
<rect x="685" y="436" width="1" height="18" fill="#008000"/>
<rect x="689" y="447" width="1" height="7" fill="#ff0000"/>
<rect x="692" y="447" width="1" height="7" fill="#008000"/>
<rect x="695" y="448" width="1" height="6" fill="#ff0000"/>
<rect x="698" y="446" width="1" height="8" fill="#ff0000"/>
<rect x="701" y="445" width="1" height="9" fill="#008000"/>
<rect x="705" y="450" width="1" height="4" fill="#ff0000"/>
<rect x="708" y="446" width="1" height="8" fill="#008000"/>
<rect x="711" y="441" width="1" height="13" fill="#008000"/>
<rect x="714" y="441" width="1" height="13" fill="#008000"/>
<rect x="717" y="432" width="1" height="22" fill="#ff0000"/>
<rect x="720" y="443" width="1" height="11" fill="#ff0000"/>
<rect x="724" y="438" width="1" height="16" fill="#008000"/>
<rect x="727" y="450" width="1" height="4" fill="#ff0000"/>
<rect x="730" y="440" width="1" height="14" fill="#ff0000"/>
<rect x="733" y="442" width="1" height="12" fill="#008000"/>
<rect x="736" y="449" width="1" height="5" fill="#ff0000"/>
<rect x="739" y="445" width="1" height="9" fill="#ff0000"/>
<rect x="743" y="447" width="1" height="7" fill="#ff0000"/>
<rect x="746" y="445" width="1" height="9" fill="#ff0000"/>
<rect x="749" y="448" width="1" height="6" fill="#ff0000"/>
<rect x="752" y="442" width="1" height="12" fill="#ff0000"/>
<rect x="755" y="447" width="1" height="7" fill="#008000"/>
<rect x="759" y="444" width="1" height="10" fill="#008000"/>
<rect x="762" y="426" width="1" height="28" fill="#ff0000"/>
<rect x="765" y="447" width="1" height="7" fill="#ff0000"/>
<rect x="768" y="433" width="1" height="21" fill="#ff0000"/>
<rect x="771" y="442" width="1" height="12" fill="#008000"/>
<rect x="774" y="440" width="1" height="14" fill="#008000"/>
<rect x="778" y="433" width="1" height="21" fill="#ff0000"/>
<rect x="781" y="437" width="1" height="17" fill="#ff0000"/>
<rect x="784" y="447" width="1" height="7" fill="#ff0000"/>
<rect x="787" y="442" width="1" height="12" fill="#ff0000"/>
<rect x="790" y="447" width="1" height="7" fill="#ff0000"/>
<rect x="793" y="439" width="1" height="15" fill="#ff0000"/>
<rect x="797" y="431" width="1" height="23" fill="#ff0000"/>
<rect x="800" y="437" width="1" height="17" fill="#008000"/>
<rect x="803" y="443" width="1" height="11" fill="#008000"/>
<rect x="806" y="446" width="1" height="8" fill="#008000"/>
<rect x="809" y="431" width="1" height="23" fill="#ff0000"/>
<rect x="813" y="443" width="1" height="11" fill="#008000"/>
<rect x="816" y="449" width="1" height="5" fill="#ff0000"/>
<rect x="819" y="447" width="1" height="7" fill="#008000"/>
<rect x="822" y="448" width="1" height="6" fill="#ff0000"/>
<rect x="825" y="441" width="1" height="13" fill="#ff0000"/>
<rect x="828" y="442" width="1" height="12" fill="#ff0000"/>
<rect x="832" y="430" width="1" height="24" fill="#ff0000"/>
<rect x="835" y="428" width="1" height="26" fill="#ff0000"/>
<rect x="838" y="447" width="1" height="7" fill="#ff0000"/>
<rect x="841" y="438" width="1" height="16" fill="#ff0000"/>
<rect x="844" y="447" width="1" height="7" fill="#008000"/>
<rect x="847" y="443" width="1" height="11" fill="#ff0000"/>
<rect x="851" y="447" width="1" height="7" fill="#ff0000"/>
<rect x="854" y="448" width="1" height="6" fill="#ff0000"/>
<rect x="857" y="444" width="1" height="10" fill="#ff0000"/>
<rect x="860" y="436" width="1" height="18" fill="#ff0000"/>
<rect x="863" y="428" width="1" height="26" fill="#008000"/>
<rect x="867" y="441" width="1" height="13" fill="#ff0000"/>
<rect x="870" y="427" width="1" height="27" fill="#008000"/>
<rect x="873" y="429" width="1" height="25" fill="#ff0000"/>
<rect x="876" y="442" width="1" height="12" fill="#008000"/>
<rect x="879" y="442" width="1" height="12" fill="#008000"/>
<rect x="882" y="447" width="1" height="7" fill="#ff0000"/>
<rect x="886" y="446" width="1" height="8" fill="#ff0000"/>
<rect x="889" y="445" width="1" height="9" fill="#008000"/>
</g>
<polyline points="3.0,508.0 5.0,516.0 7.5,522.0 10.3,520.0 12.3,514.0 14.3,509.0 17.0,503.5 19.5,501.7 22.0,501.0 25.0,499.0 28.0,495.0 31.0,491.0 34.0,489.0 37.0,490.0 40.0,491.5 43.0,493.5 46.0,494.0 49.0,494.5 52.0,497.0 55.0,502.0 58.0,506.0 61.0,508.5 64.0,508.5 67.0,505.0 70.0,495.0 73.0,486.0 76.0,483.0 78.0,485.0 80.0,489.0 83.0,498.0 86.0,507.0 89.0,509.5 92.0,510.5 95.0,512.0 98.0,518.0 101.0,524.0 104.0,527.5 107.0,527.0 110.0,524.0 113.0,521.5 116.0,520.0 119.0,520.0 122.0,521.5 125.0,525.0 128.0,528.5 131.0,530.0 134.0,530.0 137.0,530.0 140.0,528.0 143.0,523.0 146.0,519.5 149.0,519.0 152.0,518.5 155.0,517.5 158.0,515.0 161.0,507.0 164.0,497.0 167.0,490.0 168.0,489.5 170.0,492.0 173.0,499.0 176.0,508.0 179.0,517.0 182.0,523.0 184.0,525.0 186.0,523.0 189.0,519.5 192.0,518.0 195.0,519.0 198.0,523.0 201.0,527.0 204.0,529.5 207.0,530.0 210.0,529.5 213.0,528.0 216.0,526.5 219.0,525.0 222.0,523.0 225.0,523.5 228.0,524.0 231.0,524.0 234.0,522.5 237.0,521.0 240.0,521.0 243.0,520.5 246.0,518.0 249.0,511.0 252.0,503.0 255.0,496.0 257.0,491.5 259.0,492.0 262.0,496.0 264.0,503.0 266.0,509.0 268.0,509.0 270.0,509.5 273.0,514.0 276.0,519.0 278.0,525.0 280.0,526.5 282.0,524.0 285.0,520.0 288.0,517.5 290.0,517.0 293.0,517.5 296.0,517.5 299.0,517.5 302.0,516.5 305.0,514.5 308.0,512.0 311.0,509.5 314.0,507.0 316.0,506.5 318.0,507.0 320.0,509.0 323.0,510.5 326.0,510.0 329.0,507.5 332.0,503.0 335.0,497.5 338.0,494.0 340.0,494.0 342.0,499.0 344.0,506.0 347.0,512.0 350.0,517.5 352.0,515.0 354.0,514.0 356.0,517.5 358.0,518.0 361.0,518.0 364.0,519.0 367.0,517.0 370.0,517.5 373.0,516.5 376.0,514.5 378.0,513.0 380.0,513.0 382.0,514.0 384.0,517.0 387.0,524.5 390.0,529.0 393.0,530.5 396.0,530.0 399.0,528.0 400.0,527.0 403.0,520.0 406.0,512.0 409.0,506.0 411.0,506.0 414.0,507.0 417.0,508.0 420.0,507.0 423.0,504.5 426.0,499.0 429.0,493.0 432.0,491.0 434.0,496.0 436.0,505.0 438.0,515.0 440.0,524.0 442.0,529.0 445.0,528.5 448.0,528.0 451.0,528.0 454.0,527.5 457.0,526.5 460.0,524.0 463.0,521.0 466.0,517.0 469.0,513.0 472.0,507.0 475.0,503.5 478.0,499.0 480.0,497.5 483.0,497.5 486.0,496.0 489.0,496.0 492.0,495.5 495.0,497.0 498.0,499.5 501.0,501.5 503.0,500.0 505.0,495.0 508.0,487.0 511.0,479.5 514.0,478.0 517.0,478.5 520.0,480.0 523.0,482.0 526.0,484.0 529.0,483.0 532.0,484.0 535.0,486.0 538.0,491.0 541.0,501.0 544.0,511.0 547.0,520.0 549.0,524.5 552.0,524.5 555.0,525.5 557.0,526.0 560.0,524.5 563.0,522.5 565.0,521.0 568.0,522.0 571.0,524.0 574.0,525.5 577.0,525.0 580.0,525.0 583.0,526.0 586.0,527.5 588.0,527.0 590.0,524.0 593.0,522.5 595.0,519.0 597.0,518.0 599.0,519.0 601.0,517.0 604.0,514.0 607.0,512.5 610.0,511.5 613.0,512.0 616.0,512.0 618.0,508.0 621.0,501.0 624.0,497.5 626.0,497.0 629.0,498.0 632.0,501.0 635.0,506.0 638.0,512.0 641.0,515.5 644.0,515.0 647.0,511.5 650.0,510.0 653.0,510.5 656.0,512.0 659.0,513.5 662.0,514.0 665.0,514.0 668.0,515.0 671.0,518.0 674.0,522.0 677.0,524.5 680.0,526.0 682.0,526.5 685.0,524.0 688.0,522.5 690.0,519.0 693.0,517.0 696.0,517.0 699.0,517.5 702.0,518.0 705.0,517.5 708.0,515.0 711.0,510.0 714.0,502.0 717.0,496.0 720.0,499.0 722.0,503.0 724.0,510.0 727.0,519.0 730.0,521.5 733.0,521.0 736.0,519.5 739.0,519.0 742.0,519.5 745.0,522.0 748.0,525.0 751.0,528.0 754.0,529.0 757.0,528.5 760.0,528.0 763.0,528.0 766.0,527.5 769.0,526.0 772.0,521.0 774.0,514.0 776.0,512.0 779.0,512.0 781.0,512.5 783.0,517.0 785.0,521.5 788.0,523.0 791.0,525.5 794.0,527.0 797.0,527.5 800.0,527.5 803.0,527.0 806.0,526.5 809.0,526.5 812.0,527.0 815.0,526.0 818.0,524.0 821.0,523.0 824.0,523.0 827.0,525.0 830.0,526.5 833.0,527.0 836.0,527.0 839.0,526.5 842.0,525.0 845.0,521.0 848.0,516.5 851.0,514.5 854.0,515.0 857.0,519.0 860.0,524.0 863.0,526.5 866.0,527.0 868.0,525.5 870.0,525.0 873.0,526.0 876.0,525.5 878.0,527.0 880.0,527.5 883.0,527.0 885.5,526.0 887.0,522.0 889.0,518.0" fill="none" stroke="#1496ff" stroke-width="2" stroke-linejoin="round" stroke-linecap="butt"/>
<polyline points="3.0,498.0 6.0,508.0 9.0,517.0 11.4,521.5 13.9,517.0 16.9,509.0 19.6,504.0 22.0,502.0 25.0,501.0 28.0,499.0 31.0,495.5 34.0,492.0 37.0,490.5 40.0,490.5 43.0,491.5 46.0,492.5 49.0,493.5 52.0,495.0 55.0,498.0 58.0,502.0 61.0,505.5 64.0,507.5 67.0,507.5 70.0,504.0 73.0,497.0 76.0,490.0 78.0,487.5 80.0,487.0 83.0,490.0 86.0,498.0 89.0,505.0 92.0,508.5 95.0,510.0 98.0,512.5 101.0,517.0 104.0,522.5 107.0,526.5 110.0,527.0 113.0,525.5 116.0,523.0 119.0,521.0 122.0,520.5 125.0,522.0 128.0,525.0 131.0,528.0 134.0,529.5 137.0,530.0 140.0,530.0 143.0,528.0 146.0,524.5 149.0,521.0 152.0,519.5 155.0,518.5 158.0,517.5 161.0,514.0 164.0,507.0 167.0,499.0 170.0,494.0 172.0,493.5 174.0,495.0 177.0,501.0 180.0,509.0 183.0,517.0 186.0,521.5 189.0,522.5 192.0,521.0 195.0,519.5 198.0,520.5 201.0,523.5 204.0,527.0 207.0,529.0 210.0,530.0 213.0,529.5 216.0,528.5 219.0,527.0 222.0,525.0 225.0,524.0 228.0,523.5 231.0,524.0 234.0,523.5 237.0,522.5 240.0,521.5 243.0,521.0 246.0,520.0 249.0,516.5 252.0,510.0 255.0,503.0 258.0,497.0 261.0,494.5 263.0,494.5 265.0,498.0 268.0,504.0 271.0,508.5 274.0,512.0 277.0,514.0 279.0,518.0 282.0,522.0 285.0,523.0 288.0,521.0 291.0,519.0 294.0,518.0 297.0,517.5 300.0,517.5 303.0,517.0 306.0,516.0 309.0,514.0 312.0,512.0 315.0,509.5 318.0,508.0 321.0,508.5 324.0,509.0 327.0,509.0 330.0,507.5 333.0,504.0 336.0,500.0 339.0,496.5 341.0,496.0 343.0,498.0 346.0,503.0 349.0,511.0 352.0,514.0 355.0,516.0 358.0,516.5 361.0,517.5 364.0,518.0 367.0,518.0 370.0,517.5 373.0,517.0 376.0,516.0 379.0,515.0 382.0,514.5 384.0,515.0 387.0,519.0 390.0,524.0 393.0,528.0 396.0,529.5 399.0,529.5 400.0,529.5 403.0,526.0 406.0,519.0 409.0,513.0 412.0,509.0 415.0,507.0 418.0,506.5 421.0,506.5 424.0,505.5 426.0,504.0 429.0,499.0 432.0,495.5 434.0,495.0 436.0,497.0 438.0,502.0 441.0,512.0 444.0,521.0 447.0,526.5 450.0,528.0 453.0,528.0 456.0,527.5 459.0,526.5 462.0,524.5 465.0,522.0 468.0,518.5 471.0,514.5 474.0,510.0 477.0,506.0 480.0,502.0 483.0,499.0 486.0,497.5 489.0,497.0 492.0,496.5 495.0,497.0 498.0,498.5 501.0,500.0 503.0,500.0 505.0,498.5 508.0,494.0 511.0,487.0 514.0,481.5 517.0,479.0 520.0,479.0 523.0,480.5 526.0,482.0 529.0,483.0 532.0,483.5 535.0,484.5 538.0,486.5 541.0,492.0 544.0,500.0 547.0,510.0 550.0,518.0 553.0,523.0 556.0,525.0 559.0,525.0 560.0,525.5 563.0,524.5 566.0,523.0 569.0,522.5 572.0,523.0 575.0,524.0 578.0,524.5 581.0,525.0 584.0,525.5 587.0,526.0 590.0,526.5 593.0,525.0 596.0,522.0 599.0,520.0 602.0,517.5 605.0,515.5 608.0,513.5 611.0,512.0 614.0,511.5 617.0,511.0 620.0,508.0 623.0,503.0 626.0,499.5 629.0,498.0 632.0,499.0 635.0,502.0 638.0,506.0 641.0,510.5 644.0,513.5 647.0,514.0 650.0,512.5 653.0,511.0 656.0,511.0 659.0,512.0 662.0,513.0 665.0,513.5 668.0,514.0 671.0,515.5 674.0,518.5 677.0,521.5 680.0,524.5 683.0,525.5 686.0,525.0 689.0,523.5 692.0,520.5 695.0,518.5 698.0,517.5 701.0,517.5 704.0,518.0 707.0,517.0 710.0,514.5 713.0,509.5 716.0,503.5 719.0,500.0 720.0,500.0 723.0,501.5 726.0,507.0 729.0,514.0 732.0,519.5 735.0,521.0 738.0,520.5 741.0,520.0 744.0,519.5 747.0,521.0 750.0,523.5 753.0,526.0 756.0,527.5 759.0,528.5 762.0,528.5 765.0,528.5 768.0,528.0 771.0,526.5 774.0,522.5 777.0,517.5 780.0,513.5 782.0,513.0 784.0,515.0 787.0,518.5 790.0,522.0 793.0,524.5 796.0,526.5 799.0,527.5 802.0,527.5 805.0,527.0 808.0,527.0 811.0,527.0 814.0,527.0 817.0,526.5 820.0,525.5 823.0,524.0 826.0,523.5 829.0,524.5 832.0,526.0 835.0,526.5 838.0,526.5 841.0,526.5 844.0,525.5 847.0,523.0 850.0,519.0 853.0,516.5 855.0,516.0 857.0,516.5 860.0,520.0 863.0,524.0 866.0,526.5 869.0,527.0 872.0,526.5 875.0,526.5 878.0,526.5 880.0,527.0 883.0,526.8 885.5,526.3 888.0,524.7 889.0,523.5" fill="none" stroke="#ff0000" stroke-width="2" stroke-linejoin="round" stroke-linecap="butt"/>
<g class="c">
<rect x="0" y="389" width="1282" height="1" fill="#505050"/>
<rect x="0" y="460" width="1282" height="1" fill="#505050"/>
<rect x="0" y="516" width="80" height="36" fill="#d3d3d3"/>
<rect x="0" y="46" width="1" height="470" fill="#707070"/>
<rect x="442" y="0" width="646" height="1" fill="#000"/>
<rect x="80" y="532" width="1134" height="16" fill="#111"/>
<rect x="80" y="548" width="1202" height="2" fill="#343434"/>
<rect x="80" y="550" width="1202" height="1" fill="#262626"/>
<rect x="370" y="550" width="611" height="1" fill="#909090"/>
<rect x="80" y="551" width="1202" height="1" fill="#fafafa"/>
<rect x="1214" y="0" width="68" height="548" fill="#111"/>
<rect x="1213" y="2" width="1" height="530" fill="#dddddd"/>
<rect x="1214" y="1" width="1" height="547" fill="#5a5a5a"/>
<rect x="1212" y="0" width="3" height="1" fill="#000"/>
<rect x="1213" y="389" width="69" height="1" fill="#5a5a5a"/>
<rect x="1213" y="460" width="69" height="1" fill="#5a5a5a"/>
</g>
<linearGradient id="xg" x1="0" y1="0" x2="0" y2="1"><stop offset="0" stop-color="#e6d4d6"/><stop offset="0.5" stop-color="#e0dada"/><stop offset="1" stop-color="#d6e6d8"/></linearGradient>
<g stroke-linejoin="round">
<text transform="translate(0,385.40) scale(0.870,1)" x="100.85 129.79 159.20 194.07 217.07 249.07 271.77 297.80 323.77 346.97 371.91" y="0" font-size="44" font-weight="bold" fill="#e2e2e2" stroke="#efefef" stroke-width="1.8" paint-order="stroke">FxNewsToday</text>
<path d="M111.6 362.6 L120.4 371 L132 361.8" fill="none" stroke="#ecd2d4" stroke-width="3.4" stroke-linecap="round" stroke-linejoin="round"/>
<path d="M114.6 381.6 L125.6 373 L134.2 381.6" fill="none" stroke="#d6e8d8" stroke-width="3.4" stroke-linecap="round" stroke-linejoin="round"/>
</g>
<g class="c">
<rect x="1214" y="35" width="6" height="1" fill="#c8c8c8"/>
<rect x="1214" y="65" width="6" height="1" fill="#c8c8c8"/>
<rect x="1214" y="96" width="6" height="1" fill="#c8c8c8"/>
<rect x="1214" y="126" width="6" height="1" fill="#c8c8c8"/>
<rect x="1214" y="156" width="6" height="1" fill="#c8c8c8"/>
<rect x="1214" y="186" width="6" height="1" fill="#c8c8c8"/>
<rect x="1214" y="217" width="6" height="1" fill="#c8c8c8"/>
<rect x="1214" y="247" width="6" height="1" fill="#c8c8c8"/>
<rect x="1214" y="277" width="6" height="1" fill="#c8c8c8"/>
<rect x="1214" y="307" width="6" height="1" fill="#c8c8c8"/>
<rect x="1214" y="338" width="6" height="1" fill="#c8c8c8"/>
<rect x="1214" y="368" width="6" height="1" fill="#c8c8c8"/>
<rect x="1214" y="419" width="6" height="1" fill="#c8c8c8"/>
<rect x="1214" y="452" width="6" height="1" fill="#c8c8c8"/>
<rect x="1214" y="476" width="6" height="1" fill="#c8c8c8"/>
<rect x="1214" y="503" width="6" height="1" fill="#c8c8c8"/>
<rect x="1214" y="529" width="6" height="1" fill="#c8c8c8"/>
</g>
<text class="ax" x="1221.6" y="38.9" textLength="38.0" lengthAdjust="spacingAndGlyphs">12.5000</text>
<text class="ax" x="1221.6" y="69.2" textLength="38.0" lengthAdjust="spacingAndGlyphs">12.0000</text>
<text class="ax" x="1221.6" y="99.4" textLength="38.0" lengthAdjust="spacingAndGlyphs">11.5000</text>
<text class="ax" x="1221.6" y="129.7" textLength="38.0" lengthAdjust="spacingAndGlyphs">11.0000</text>
<text class="ax" x="1221.6" y="159.9" textLength="38.0" lengthAdjust="spacingAndGlyphs">10.5000</text>
<text class="ax" x="1221.6" y="190.2" textLength="38.0" lengthAdjust="spacingAndGlyphs">10.0000</text>
<text class="ax" x="1221.6" y="220.5" textLength="32.1" lengthAdjust="spacingAndGlyphs">9.5000</text>
<text class="ax" x="1221.6" y="250.7" textLength="32.1" lengthAdjust="spacingAndGlyphs">9.0000</text>
<text class="ax" x="1221.6" y="281.0" textLength="32.1" lengthAdjust="spacingAndGlyphs">8.5000</text>
<text class="ax" x="1221.6" y="311.2" textLength="32.1" lengthAdjust="spacingAndGlyphs">8.0000</text>
<text class="ax" x="1221.6" y="341.5" textLength="32.1" lengthAdjust="spacingAndGlyphs">7.5000</text>
<text class="ax" x="1221.6" y="371.8" textLength="32.1" lengthAdjust="spacingAndGlyphs">7.0000</text>
<text class="ax" x="1221.6" y="422.9" textLength="24.1" lengthAdjust="spacingAndGlyphs">500K</text>
<text class="ax" x="1221.6" y="455.9" textLength="12.4" lengthAdjust="spacingAndGlyphs">0K</text>
<text class="ax" x="1221.6" y="479.8" textLength="43.8" lengthAdjust="spacingAndGlyphs">100.0000</text>
<text class="ax" x="1221.6" y="532.9" textLength="32.1" lengthAdjust="spacingAndGlyphs">0.0000</text>
<g class="c">
<rect x="1220" y="275" width="60" height="16" fill="#800080"/>
<rect x="1220" y="437.4" width="60" height="16.4" fill="#008000" style="shape-rendering:auto"/>
<rect x="1220" y="495" width="60" height="16" fill="#0094ff"/>
<rect x="1220" y="515" width="60" height="16" fill="#ff0000"/>
<rect x="1219" y="368" width="63" height="18" fill="#ffff00"/>
</g>
<polygon points="1215.8,311.6 1220.5,303.6 1279.6,303.6 1279.6,319.7 1220.5,319.7" fill="#008000"/>
<text class="ax" x="1224.3" y="285.8" textLength="32.1" lengthAdjust="spacingAndGlyphs">8.4104</text>
<text class="ax" x="1224.3" y="314.7" textLength="32.1" lengthAdjust="spacingAndGlyphs">7.9400</text>
<text class="ax" x="1225.0" y="448.6" textLength="44.6" lengthAdjust="spacingAndGlyphs">106.176K</text>
<text class="ax" x="1224.3" y="506.0" textLength="38.0" lengthAdjust="spacingAndGlyphs">23.1433</text>
<text class="ax" x="1224.3" y="526.0" textLength="38.0" lengthAdjust="spacingAndGlyphs">12.7992</text>
<text x="1251.5" y="380.6" text-anchor="middle" font-size="11" fill="#222" direction="rtl">خطي</text>
<g class="c">
<rect x="136" y="527" width="1" height="6" fill="#909090"/>
<rect x="269" y="527" width="1" height="6" fill="#909090"/>
<rect x="403" y="527" width="1" height="6" fill="#909090"/>
<rect x="524" y="527" width="1" height="6" fill="#909090"/>
<rect x="647" y="527" width="1" height="6" fill="#909090"/>
<rect x="790" y="527" width="1" height="6" fill="#909090"/>
<rect x="924" y="527" width="1" height="6" fill="#909090"/>
<rect x="1060" y="527" width="1" height="6" fill="#909090"/>
<rect x="1200" y="527" width="1" height="6" fill="#909090"/>
</g>
<clipPath id="dc"><rect x="80" y="532" width="1134" height="16"/></clipPath>
<g clip-path="url(#dc)">
<text class="ax" x="138.2" y="543" textLength="20.5" lengthAdjust="spacingAndGlyphs">Nov</text>
<text class="ax" x="271.2" y="543" textLength="40.7" lengthAdjust="spacingAndGlyphs">2023Jan</text>
<text class="ax" x="405.0" y="543" textLength="18.8" lengthAdjust="spacingAndGlyphs">Mar</text>
<text class="ax" x="525.0" y="543" textLength="20.5" lengthAdjust="spacingAndGlyphs">May</text>
<text class="ax" x="649.0" y="543" textLength="14.0" lengthAdjust="spacingAndGlyphs">Jul</text>
<text class="ax" x="792.4" y="543" textLength="18.0" lengthAdjust="spacingAndGlyphs">Sep</text>
<text class="ax" x="925.5" y="543" textLength="20.6" lengthAdjust="spacingAndGlyphs">Nov</text>
<text class="ax" x="1062.0" y="543" textLength="40.7" lengthAdjust="spacingAndGlyphs">2024Jan</text>
<text class="ax" x="1202.0" y="543" textLength="18.8" lengthAdjust="spacingAndGlyphs">Mar</text>
</g>
<g>
<rect x="1087" y="390" width="116" height="12" fill="#10253d" shape-rendering="crispEdges"/>
<path d="M1093.8 393.1 l6.4 6.4 M1100.2 393.1 l-6.4 6.4" stroke="#506070" stroke-width="2.1" fill="none"/>
<rect x="1110.5" y="392.8" width="7" height="7" rx="1" fill="#1c2c40" stroke="#506070" stroke-width="1"/>
<rect x="1110.5" y="392.5" width="7" height="1.5" fill="#506070"/>
<path d="M1129.3 396.6 l4.2 -3.2 l4.2 3.2 M1133.5 394.3 v5.6" stroke="#506070" stroke-width="2" fill="none"/>
<path d="M1150.3 396.5 l4.2 3.2 l4.2 -3.2 M1154.5 393.0 v5.6" stroke="#506070" stroke-width="2" fill="none"/>
<circle cx="1172.8" cy="396.3" r="3.9" fill="none" stroke="#506070" stroke-width="1.9"/>
<circle cx="1172.8" cy="396.3" r="4.8" fill="none" stroke="#506070" stroke-width="1.2" stroke-dasharray="1.6 2.17"/>
<circle cx="1172.8" cy="396.3" r="1.3" fill="#506070"/>
<rect x="1184.0" y="395.3" width="2.6" height="2.6" fill="none" stroke="#506070" stroke-width="0.9"/>
<rect x="1188.6" y="395.3" width="2.6" height="2.6" fill="none" stroke="#506070" stroke-width="0.9"/>
<rect x="1193.2" y="395.3" width="2.6" height="2.6" fill="none" stroke="#506070" stroke-width="0.9"/>
</g>
<g>
<rect x="1108" y="461" width="95" height="12" fill="#10253d" shape-rendering="crispEdges"/>
<path d="M1114.8 464.1 l6.4 6.4 M1121.2 464.1 l-6.4 6.4" stroke="#506070" stroke-width="2.1" fill="none"/>
<rect x="1131.5" y="463.8" width="7" height="7" rx="1" fill="#1c2c40" stroke="#506070" stroke-width="1"/>
<rect x="1131.5" y="463.5" width="7" height="1.5" fill="#506070"/>
<path d="M1150.3 467.6 l4.2 -3.2 l4.2 3.2 M1154.5 465.3 v5.6" stroke="#506070" stroke-width="2" fill="none"/>
<circle cx="1172.8" cy="467.3" r="3.9" fill="none" stroke="#506070" stroke-width="1.9"/>
<circle cx="1172.8" cy="467.3" r="4.8" fill="none" stroke="#506070" stroke-width="1.2" stroke-dasharray="1.6 2.17"/>
<circle cx="1172.8" cy="467.3" r="1.3" fill="#506070"/>
<rect x="1184.0" y="466.3" width="2.6" height="2.6" fill="none" stroke="#506070" stroke-width="0.9"/>
<rect x="1188.6" y="466.3" width="2.6" height="2.6" fill="none" stroke="#506070" stroke-width="0.9"/>
<rect x="1193.2" y="466.3" width="2.6" height="2.6" fill="none" stroke="#506070" stroke-width="0.9"/>
</g>
<text x="6" y="399" font-size="10" fill="#2a2a3c" textLength="20.4" lengthAdjust="spacing">VOL</text>
<text x="36" y="399" font-size="10" fill="#0a8428" textLength="31.4" lengthAdjust="spacing">106.18</text>
<text x="6" y="470" font-size="10" fill="#303030" textLength="77.5" lengthAdjust="spacing">SlowSTO(3,14,3)</text>
<text x="93.5" y="470" font-size="10" fill="#2b95f5" textLength="35.5" lengthAdjust="spacing">K:23.14</text>
<text x="137.5" y="470" font-size="10" fill="#f01c30" textLength="35.5" lengthAdjust="spacing">D:12.80</text>
</svg>
</body></html>
